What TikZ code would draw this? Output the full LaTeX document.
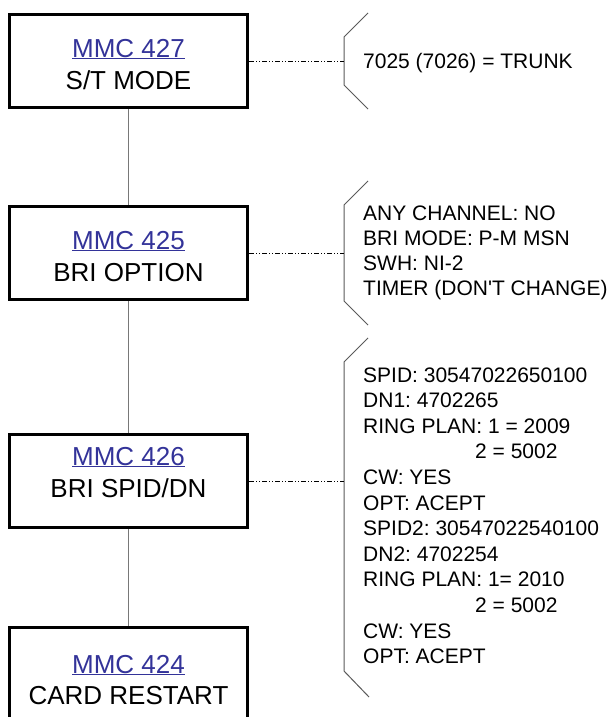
\documentclass[tikz,border=0pt]{standalone}
\usepackage{fontspec}
\setmainfont{Liberation Sans}
\frenchspacing
\definecolor{linkblue}{RGB}{51,51,153}
\definecolor{wiregray}{RGB}{120,120,120}
\definecolor{bracketgray}{RGB}{90,90,90}
\begin{document}
\begin{tikzpicture}[x=1pt,y=-1pt,
  mmcbox/.style={draw=black,line width=3pt,minimum width=238pt,minimum height=93pt,inner sep=0pt},
  boxtitle/.style={anchor=base,inner sep=0pt,text=linkblue,font=\fontsize{26}{31}\selectfont},
  boxsub/.style={anchor=base,inner sep=0pt,font=\fontsize{26}{31}\selectfont},
  setting/.style={anchor=base west,inner sep=0pt,font=\fontsize{21}{25}\selectfont},
  link/.style={draw=wiregray,line width=1.2pt},
  lead/.style={draw=black,line width=0.9pt,dash pattern=on 5pt off 2pt on 1pt off 2pt on 1pt off 2pt},
  bracket/.style={draw=bracketgray,line width=1pt}]
\clip (0,0) rectangle (613,717);
\fill[white] (0,0) rectangle (613,717);

% MMC boxes
\node[mmcbox] (b427) at (128.5,61) {};
\node[boxtitle] (t427) at (128.5,57) {\underline{MMC 427}};
\node[boxsub] (s427) at (128.5,89.5) {S/T MODE};

\node[mmcbox] (b425) at (128.5,253) {};
\node[boxtitle] (t425) at (128.5,249) {\underline{MMC 425}};
\node[boxsub] (s425) at (128.5,281) {BRI OPTION};

\node[mmcbox] (b426) at (128.5,481) {};
\node[boxtitle] (t426) at (128.5,465) {\underline{MMC 426}};
\node[boxsub] (s426) at (128.5,497) {BRI SPID/DN};

\node[mmcbox] (b424) at (128.5,674) {};
\node[boxtitle] (t424) at (128.5,673) {\underline{MMC 424}};
\node[boxsub] (s424) at (128.5,704) {CARD RESTART};

% flow between the boxes
\draw[link] (b427.south) -- (b425.north);
\draw[link] (b425.south) -- (b426.north);
\draw[link] (b426.south) -- (b424.north);

% bracket points
\coordinate (k1a) at (368,13);  \coordinate (k1b) at (344,37);
\coordinate (k1c) at (344,85);  \coordinate (k1d) at (368,109);
\coordinate (j1) at (344,61);

\coordinate (k2a) at (368,181); \coordinate (k2b) at (344,205);
\coordinate (k2c) at (344,301); \coordinate (k2d) at (368,325);
\coordinate (j2) at (344,253);

\coordinate (k3a) at (368,338); \coordinate (k3b) at (344,362);
\coordinate (k3c) at (344,671); \coordinate (k3d) at (369,697);
\coordinate (j3) at (344,481);

\draw[bracket] (k1a) -- (k1b) -- (k1c) -- (k1d);
\draw[bracket] (k2a) -- (k2b) -- (k2c) -- (k2d);
\draw[bracket] (k3a) -- (k3b) -- (k3c) -- (k3d);

% leaders to the settings
\draw[lead] (b427.east) -- (j1);
\draw[lead] (b425.east) -- (j2);
\draw[lead] (b426.east) -- (j3);

% settings
\node[setting] (v427) at (363,68.5) {7025 (7026) = TRUNK};

\node[setting] (v425a) at (363,220.5) {ANY CHANNEL: NO};
\node[setting] (v425b) at (363,245.5) {BRI MODE: P-M MSN};
\node[setting] (v425c) at (363,270.5) {SWH: NI-2};
\node[setting] (v425d) at (363,295.5) {TIMER (DON\textquotesingle T CHANGE)};

\foreach \yy/\xx/\txt [count=\i] in {
    382/363/SPID: 30547022650100,
    407.6/363/DN1: 4702265,
    433.2/363/RING PLAN: 1 = 2009,
    458.8/475/2 = 5002,
    484.4/363/CW: YES,
    510/363/OPT: ACEPT,
    535.6/363/SPID2: 30547022540100,
    561.2/363/DN2: 4702254,
    586.8/363/RING PLAN: 1= 2010,
    612.4/475/2 = 5002,
    638/363/CW: YES,
    663.6/363/OPT: ACEPT}
  \node[setting] (v426-\i) at (\xx,\yy) {\txt};
\end{tikzpicture}
\end{document}
